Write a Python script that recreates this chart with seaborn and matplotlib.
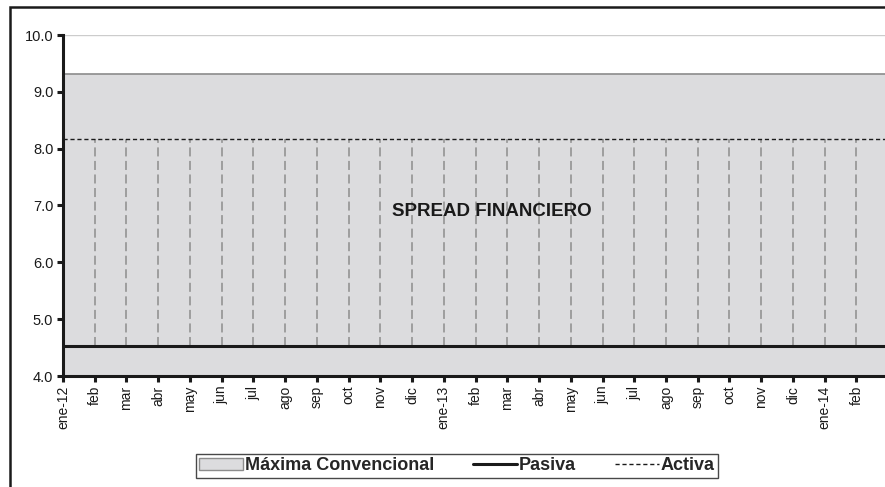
import numpy as np
import pandas as pd
import matplotlib
matplotlib.use("Agg")
import matplotlib.pyplot as plt
import seaborn as sns
from matplotlib.patches import Patch, Rectangle
from matplotlib.lines import Line2D

# Datos (tasas mensuales, %)
meses = ['ene-12', 'feb', 'mar', 'abr', 'may', 'jun', 'jul', 'ago', 'sep', 'oct', 'nov', 'dic',
         'ene-13', 'feb', 'mar', 'abr', 'may', 'jun', 'jul', 'ago', 'sep', 'oct', 'nov', 'dic',
         'ene-14', 'feb', 'mar']
maxima_convencional = [9.32] * 27
pasiva = [4.53] * 27
activa = [8.17] * 27

df = pd.DataFrame({'idx': np.arange(len(meses)), 'mes': meses,
                   'maxima': maxima_convencional, 'pasiva': pasiva, 'activa': activa})

sns.set_theme(style="white")
plt.rcParams['font.family'] = ['Liberation Sans', 'DejaVu Sans']

fig = plt.figure(figsize=(8.85, 4.87), dpi=100)
ax = fig.add_axes([63 / 885, 1 - 376 / 487, 1 - 63 / 885, (376 - 35) / 487])

# area maxima convencional
ax.fill_between(df['idx'], 4.0, df['maxima'], color='#dcdcde', zorder=1)
sns.lineplot(data=df, x='idx', y='maxima', color='#8c8c8c', linewidth=1.2, ax=ax, zorder=2)

# lineas verticales (spread)
ax.vlines(df['idx'], df['pasiva'], df['activa'], colors='#999999', linewidth=1.3,
          linestyles=(0, (5, 2.5)), zorder=2)

sns.lineplot(data=df, x='idx', y='pasiva', color='#1a1a1a', linewidth=2.2, ax=ax, zorder=3)
sns.lineplot(data=df, x='idx', y='activa', color='#1a1a1a', linewidth=1.0,
             linestyle=(0, (3, 2)), ax=ax, zorder=3)

ax.axhline(10.0, color='#cccccc', linewidth=1.0, zorder=0)

ax.text(13.5, 6.9, 'SPREAD FINANCIERO', ha='center', va='center',
        fontsize=13.5, fontweight='bold', color='#1a1a1a')

# solo los meses visibles llevan etiqueta
visibles = df[df['idx'] <= 25]
ax.set_xlim(0, 25.9)
ax.set_ylim(4.0, 10.0)
ax.set_yticks(np.arange(4.0, 10.01, 1.0))
ax.set_yticklabels([f'{v:.1f}' for v in np.arange(4.0, 10.01, 1.0)], fontsize=10.5)
ax.set_xticks(visibles['idx'])
ax.set_xticklabels(visibles['mes'], rotation=90, fontsize=10)
ax.set_xlabel('')
ax.set_ylabel('')
ax.tick_params(axis='both', direction='out', length=4, width=2.2, color='#1a1a1a',
               bottom=True, left=True, pad=3, labelcolor='#1a1a1a')

for s in ['top', 'right']:
    ax.spines[s].set_visible(False)
for s in ['left', 'bottom']:
    ax.spines[s].set_color('#1a1a1a')
    ax.spines[s].set_linewidth(2.2)
ax.set_facecolor('white')

# marco exterior
fig.patches.append(Rectangle((10 / 885, -0.1), 1.2, 1 - 7 / 487 + 0.1, transform=fig.transFigure,
                             fill=False, edgecolor='#1a1a1a', linewidth=1.8))

handles = [Patch(facecolor='#dcdcde', edgecolor='#8c8c8c', label='Máxima Convencional'),
           Line2D([], [], color='#1a1a1a', linewidth=2.2, label='Pasiva'),
           Line2D([], [], color='#1a1a1a', linewidth=1.0, linestyle=(0, (3, 2)), label='Activa')]
leg = fig.legend(handles=handles, loc='center', bbox_to_anchor=(457 / 885, 1 - 466 / 487), ncol=3,
                 frameon=True, fancybox=False, edgecolor='#1a1a1a',
                 prop={'weight': 'bold', 'size': 13}, handlelength=2.4, handleheight=0.6,
                 handletextpad=0.1, columnspacing=2.2, borderpad=0.2)
leg.get_frame().set_linewidth(1.0)

fig.savefig('out.png', dpi=100)
